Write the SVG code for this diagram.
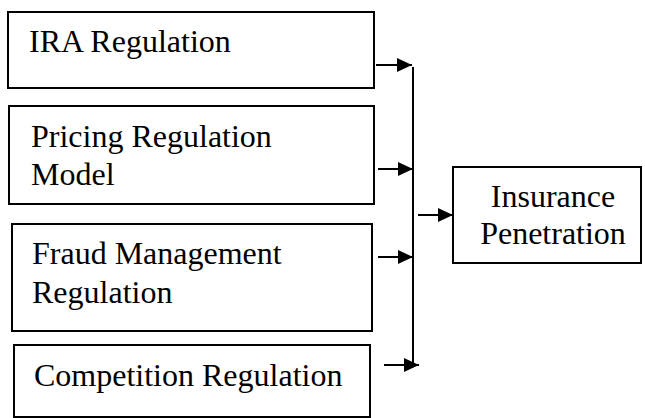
<svg xmlns="http://www.w3.org/2000/svg" width="645" height="418" viewBox="0 0 645 418">
<defs>
<marker id="ah" markerWidth="15" markerHeight="14" refX="15" refY="7" orient="auto" markerUnits="userSpaceOnUse">
<path d="M0,0 L15,7 L0,14 Z" fill="#000"/>
</marker>
</defs>
<rect width="645" height="418" fill="#fff"/>
<g id="n1"><rect x="8" y="12" width="366" height="76" fill="#fff" stroke="#000" stroke-width="2"/><text x="29" y="52" font-family="Liberation Serif" font-size="32">IRA Regulation</text></g>
<g id="n2"><rect x="9" y="106" width="365" height="98" fill="#fff" stroke="#000" stroke-width="2"/><text x="31" y="147" font-family="Liberation Serif" font-size="32">Pricing Regulation</text><text x="31" y="185" font-family="Liberation Serif" font-size="32">Model</text></g>
<g id="n3"><rect x="12" y="224" width="360" height="107" fill="#fff" stroke="#000" stroke-width="2"/><text x="32" y="264" font-family="Liberation Serif" font-size="32">Fraud Management</text><text x="32" y="303" font-family="Liberation Serif" font-size="32">Regulation</text></g>
<g id="n4"><rect x="14" y="345" width="356" height="72" fill="#fff" stroke="#000" stroke-width="2"/><text x="34" y="386" font-family="Liberation Serif" font-size="32">Competition Regulation</text></g>
<g id="n5"><rect x="453" y="167" width="188" height="96" fill="#fff" stroke="#000" stroke-width="2"/><text x="553" y="207" text-anchor="middle" font-family="Liberation Serif" font-size="32">Insurance</text><text x="553" y="244" text-anchor="middle" font-family="Liberation Serif" font-size="32">Penetration</text></g>
<g id="connectors" stroke="#000" stroke-width="2" fill="none">
<line x1="413" y1="67" x2="413" y2="366"/>
<line x1="376" y1="65" x2="412" y2="65" marker-end="url(#ah)"/>
<line x1="378" y1="169" x2="413" y2="169" marker-end="url(#ah)"/>
<line x1="378" y1="257" x2="413" y2="257" marker-end="url(#ah)"/>
<line x1="384" y1="365" x2="419" y2="365" marker-end="url(#ah)"/>
<line x1="418" y1="215" x2="453" y2="215" marker-end="url(#ah)"/>
</g>
</svg>
